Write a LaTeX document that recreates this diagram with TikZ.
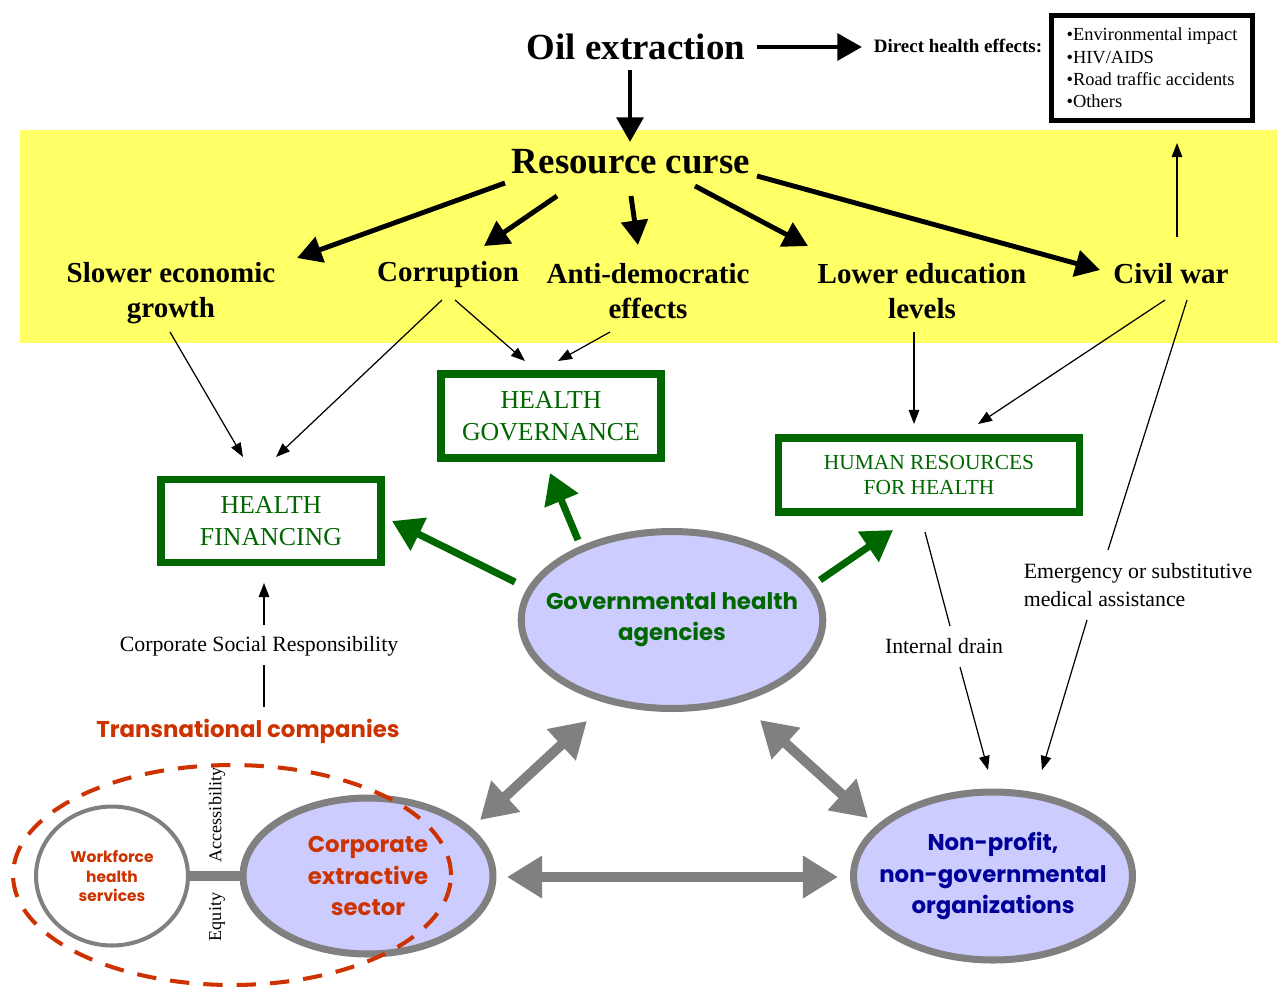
\documentclass[tikz,border=0pt]{standalone}
\usepackage{fontspec}
\setmainfont{Liberation Serif}
\newfontfamily\comicfont{Poppins}
\usetikzlibrary{arrows.meta}
\usetikzlibrary{calc}
\usetikzlibrary{shapes.geometric}

\definecolor{bandyellow}{HTML}{FFFF66}
\definecolor{hgreen}{HTML}{006600}
\definecolor{agray}{HTML}{808080}
\definecolor{lav}{HTML}{CCCCFF}
\definecolor{rust}{HTML}{CC3300}
\definecolor{navy}{HTML}{000099}

\tikzset{
  heading/.style={font=\bfseries\fontsize{21}{25}\selectfont},
  effect/.style={font=\bfseries\fontsize{16.5}{20}\selectfont, align=center},
  hbox/.style={draw=hgreen, line width=4.5pt, text=hgreen, align=center, inner sep=0pt},
  actor/.style={ellipse, draw=agray, line width=4pt, fill=lav, inner sep=0pt, align=center,
    font=\comicfont\bfseries\fontsize{13}{17.8}\selectfont},
  note/.style={font=\fontsize{12.4}{15.5}\selectfont},
  bigarrow/.style={-{Triangle[length=14pt,width=15pt]}, line width=2.8pt},
  link/.style={-{Triangle[length=8pt,width=6pt]}, line width=0.7pt},
  greenarrow/.style={-{Triangle[length=17pt,width=20pt]}, line width=4pt, draw=hgreen},
  twoway/.style={{Triangle[length=20pt,width=23pt]}-{Triangle[length=20pt,width=23pt]},
    line width=5.7pt, draw=agray},
}

\begin{document}
\begin{tikzpicture}[x=0.02cm, y=-0.02cm]
  \useasboundingbox (0,0) rectangle (1277,988);
  \fill[bandyellow] (20,130) rectangle (1277,343);

  % top row
  \node[heading] (oil) at (636,47) {Oil extraction};
  \node[font=\bfseries\fontsize{10.8}{13}\selectfont] (direct) at (958,46) {Direct health effects:};
  \node[draw, line width=2.8pt, minimum width=4.02cm, minimum height=2.1cm, align=left,
    font=\fontsize{10.5}{12.7}\selectfont] (effects) at (1152,68)
    {\textbullet Environmental impact\\\textbullet HIV/AIDS\\\textbullet Road traffic accidents\\\textbullet Others};

  % resource curse and its effects
  \node[heading] (curse) at (631,162) {Resource curse};
  \node[effect] (slow) at (171,293) {Slower economic\\growth};
  \node[effect] (corrupt) at (448,275) {Corruption};
  \node[effect] (antidem) at (648,291) {Anti-democratic\\effects};
  \node[effect] (lowedu) at (922,291) {Lower education\\levels};
  \node[effect] (civil) at (1171,274) {Civil war};

  % health system boxes
  \node[hbox, minimum width=4.4cm, minimum height=1.68cm, font=\fontsize{14.7}{18}\selectfont]
    (gov) at (551,416) {HEALTH\\GOVERNANCE};
  \node[hbox, minimum width=4.4cm, minimum height=1.66cm, font=\fontsize{14.7}{18}\selectfont]
    (fin) at (271,521) {HEALTH\\FINANCING};
  \node[hbox, minimum width=6.02cm, minimum height=1.48cm, font=\fontsize{12.2}{14.7}\selectfont]
    (hrh) at (929,475) {HUMAN RESOURCES\\FOR HEALTH};

  % actors
  \node[actor, minimum width=6.02cm, minimum height=3.54cm, inner xsep=-11pt, text=hgreen]
    (gha) at (672,620) {Governmental health\\agencies};
  \node[actor, minimum width=5.0cm, minimum height=3.12cm, text=rust] (ces) at (368,876)
    {\raisebox{-4pt}{\parbox{3cm}{\centering Corporate\\extractive\\sector}}};
  \node[actor, minimum width=5.58cm, minimum height=3.36cm, inner xsep=-9pt, text=navy]
    (ngo) at (993,876) {Non-profit,\\non-governmental\\organizations};
  \node[ellipse, draw=agray, line width=2.3pt, fill=white, minimum width=3.04cm, minimum height=2.78cm,
    inner sep=0pt, align=center, text=rust, font=\comicfont\bfseries\fontsize{8.8}{11.3}\selectfont]
    (wfh) at (112,876) {Workforce\\health\\services};
  \draw[agray, line width=5.7pt] (wfh.east) -- (ces.west);
  \node[ellipse, draw=rust, line width=2.3pt, dash pattern=on 11pt off 8pt, minimum width=8.76cm,
    minimum height=4.4cm] (ring) at (232,875) {};

  % labels
  \node[text=rust, font=\comicfont\bfseries\fontsize{13}{16}\selectfont] (tnc) at (248,731) {Transnational companies};
  \node[note] (csr) at (259,646) {Corporate Social Responsibility};
  \node[note, align=left] (emerg) at (1138,585) {Emergency or substitutive\\medical assistance};
  \node[note] (drain) at (944,646) {Internal drain};
  \node[rotate=90, font=\fontsize{10.3}{12}\selectfont] (access) at (217,815) {Accessibility};
  \node[rotate=90, font=\fontsize{10.3}{12}\selectfont] (equity) at (217,917) {Equity};

  % big black arrows
  \draw[bigarrow] ($(oil)+(121,0)$) -- ($(direct)+(-96,1)$);
  \draw[bigarrow] ($(oil)+(-6,23)$) -- ($(curse)+(-1,-20)$);
  \draw[bigarrow] ($(curse)+(-126,21)$) -- ($(slow)+(126,-35)$);
  \draw[bigarrow] ($(curse)+(-74,34)$) -- ($(corrupt)+(36,-29)$);
  \draw[bigarrow] ($(curse)+(0,34)$) -- ($(antidem)+(-10,-46)$);
  \draw[bigarrow] ($(curse)+(64,24)$) -- ($(lowedu)+(-114,-45)$);
  \draw[bigarrow] ($(curse)+(126,14)$) -- ($(civil)+(-71,-4)$);

  % thin arrows
  \draw[link] ($(civil)+(6,-37)$) -- ($(effects)+(25,75)$);
  \draw[link] ($(slow)+(-1,39)$) -- ($(fin)+(-28,-64)$);
  \draw[link] ($(corrupt)+(-6,25)$) -- ($(fin)+(5,-64)$);
  \draw[link] ($(corrupt)+(7,25)$) -- ($(gov)+(-26,-55)$);
  \draw[link] ($(antidem)+(-38,41)$) -- ($(gov)+(7,-55)$);
  \draw[link] ($(lowedu)+(-8,41)$) -- ($(hrh)+(-15,-51)$);
  \draw[link] ($(civil)+(-6,26)$) -- ($(hrh)+(49,-51)$);
  \draw[line width=0.7pt] ($(civil)+(16,26)$) -- ($(emerg)+(-30,-35)$);
  \draw[link] ($(emerg)+(-51,35)$) -- ($(ngo)+(49,-106)$);
  \draw[line width=0.7pt] ($(hrh)+(-4,57)$) -- ($(drain)+(6,-20)$);
  \draw[link] ($(drain)+(16,21)$) -- ($(ngo)+(-5,-106)$);
  \draw[line width=0.7pt] ($(tnc)+(16,-24)$) -- ($(csr)+(5,19)$);
  \draw[link] ($(csr)+(5,-21)$) -- ($(fin)+(-7,62)$);

  % green arrows
  \draw[greenarrow] ($(gha)+(-157,-38)$) -- ($(fin)+(121,0)$);
  \draw[greenarrow] ($(gha)+(-94,-80)$) -- ($(gov)+(-1,57)$);
  \draw[greenarrow] ($(gha)+(148,-40)$) -- ($(hrh)+(-36,55)$);

  % gray two-way arrows
  \draw[twoway] ($(ces)+(112,-56)$) -- ($(gha)+(-85,101)$);
  \draw[twoway] ($(ces)+(139,1)$) -- ($(ngo)+(-155,1)$);
  \draw[twoway] ($(gha)+(88,100)$) -- ($(ngo)+(-125,-58)$);
\end{tikzpicture}
\end{document}
